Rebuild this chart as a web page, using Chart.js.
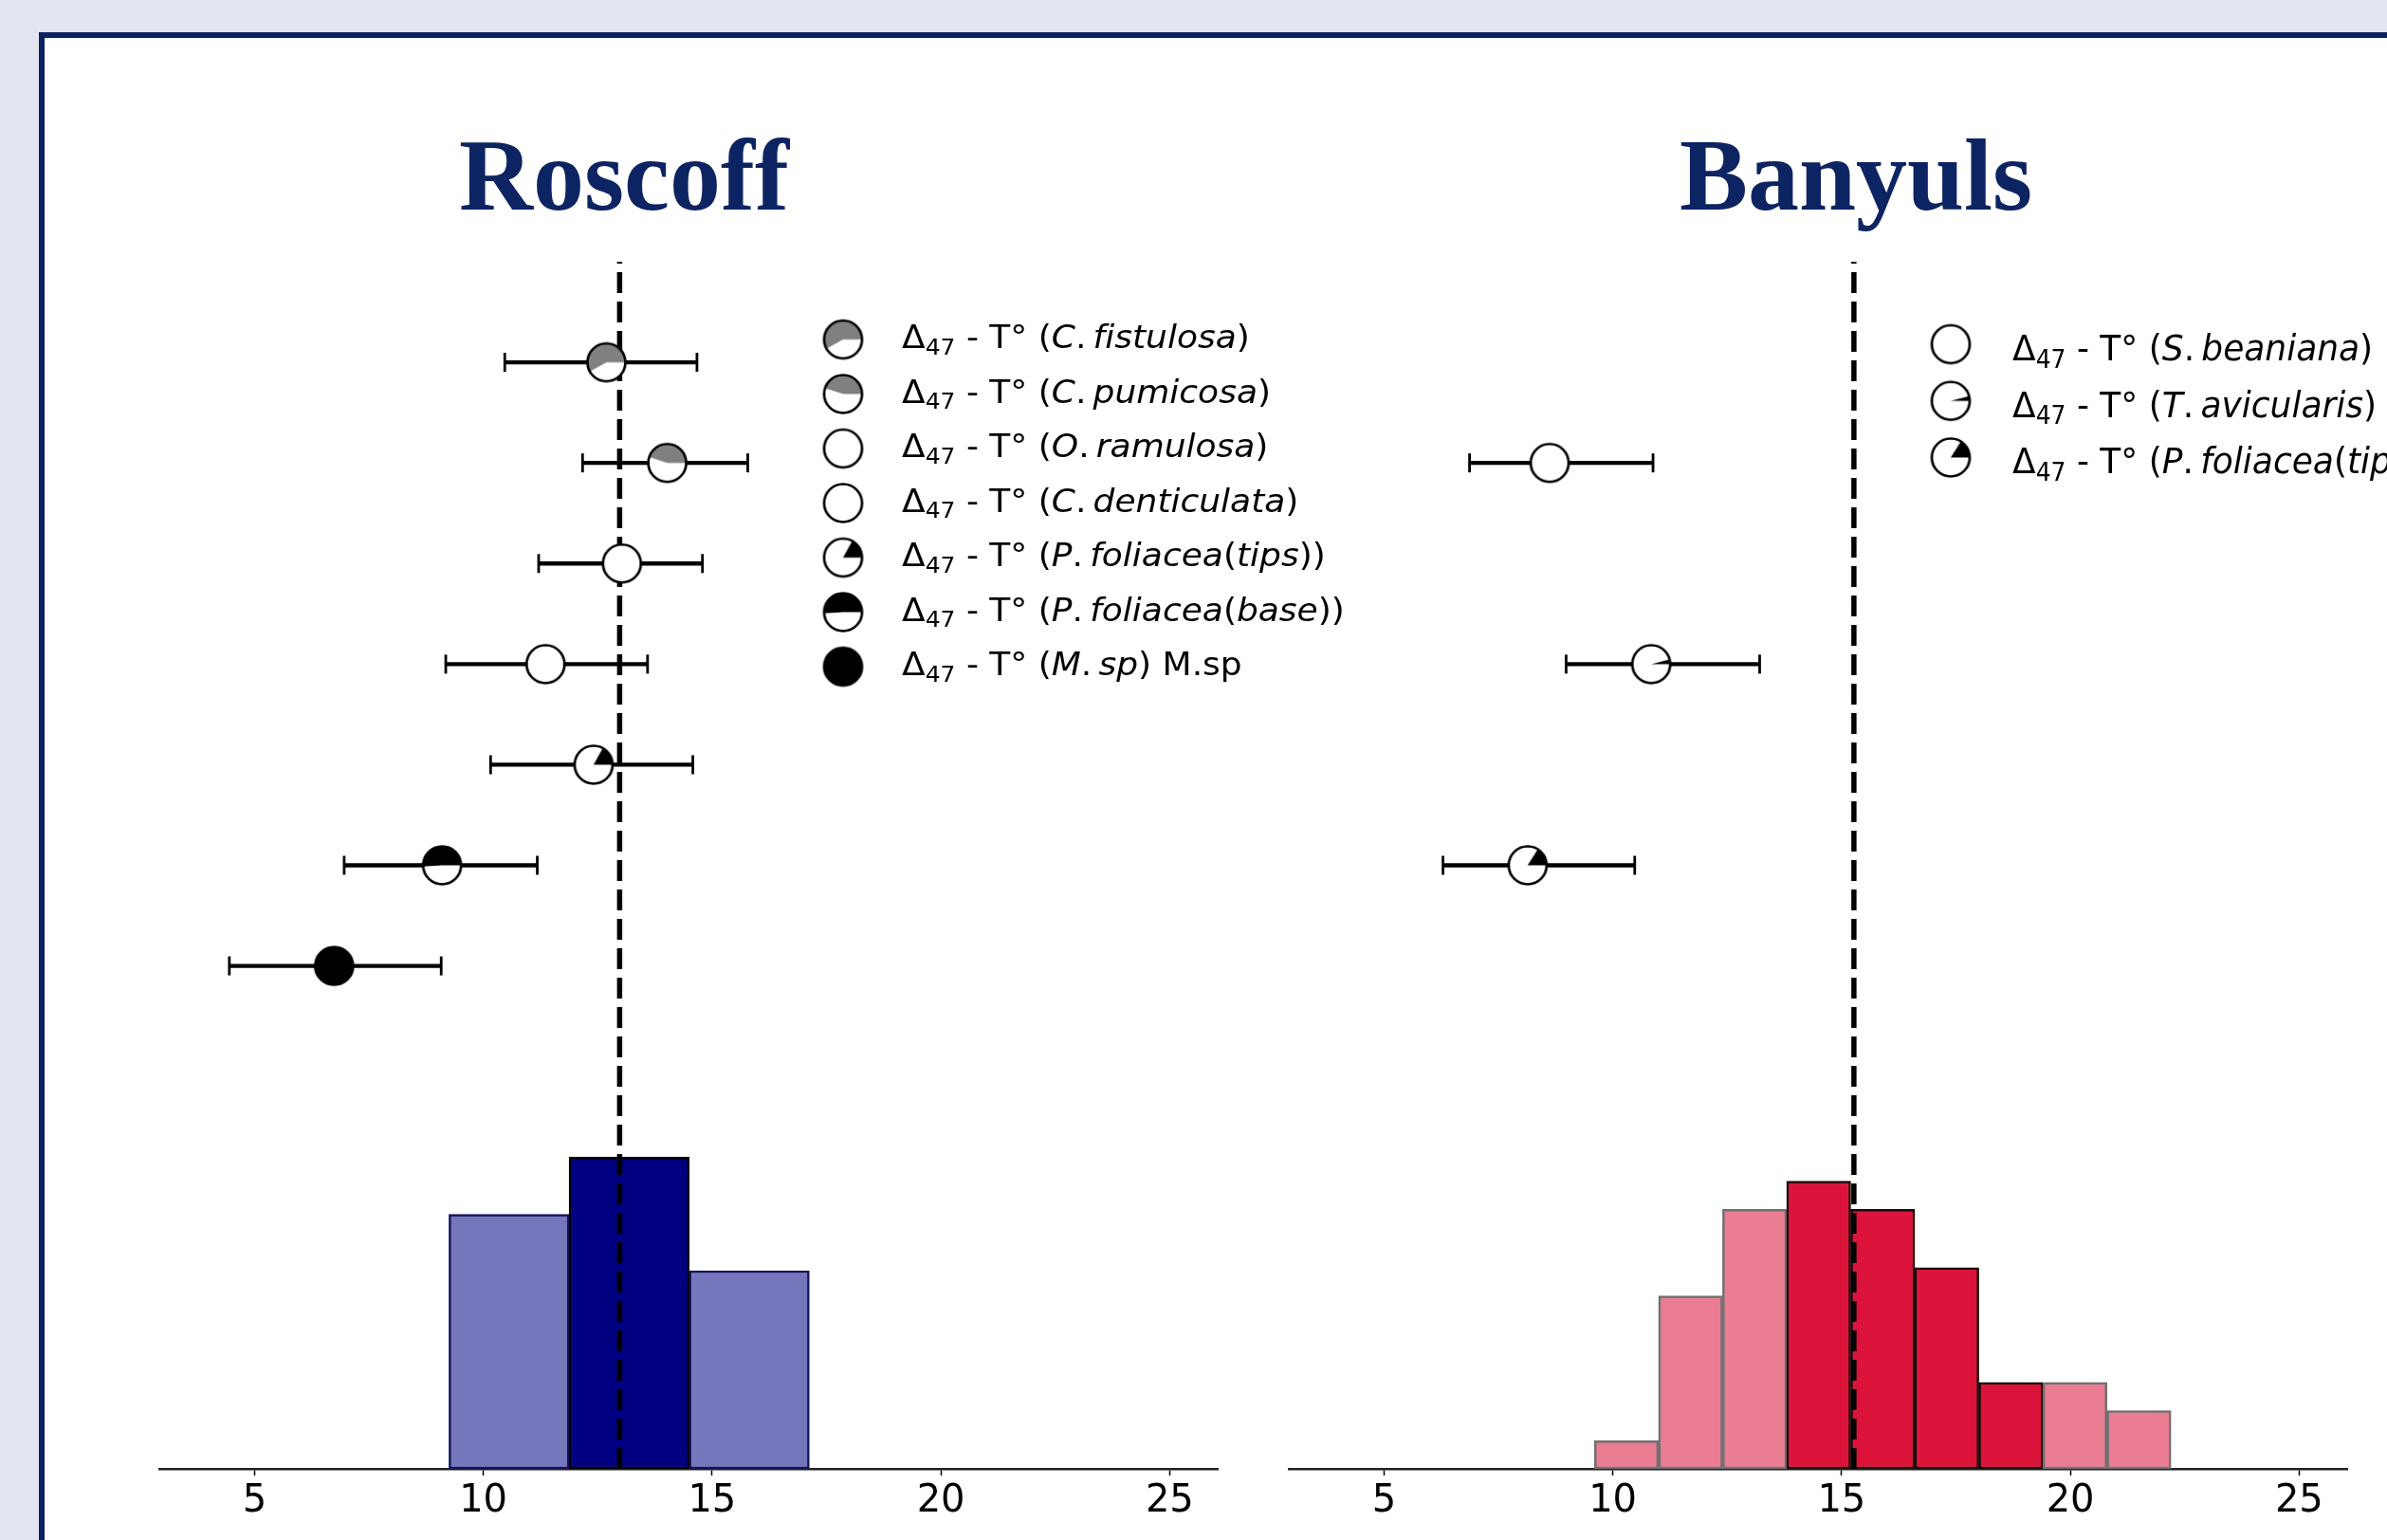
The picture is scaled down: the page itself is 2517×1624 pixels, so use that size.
<!DOCTYPE html>
<html>
<head>
<meta charset="utf-8">
<script src="https://cdn.jsdelivr.net/npm/chart.js@4.4.1/dist/chart.umd.min.js"></script>
<style>
  body { margin: 0; width: 2517px; height: 1624px; background: #e3e6f0; overflow: hidden; position: relative; }
  #frame { position: absolute; left: 41px; top: 34px; width: 2600px; height: 1700px; background: #fff;
           border-left: 6px solid #0b2262; border-top: 6px solid #0b2262; }
  .title { position: absolute; top: 131px; transform: translateX(-50%); white-space: nowrap;
           font-family: "Liberation Serif", serif; font-weight: bold; font-size: 108px; line-height: 108px; color: #0d2462; }
  .panel { position: absolute; top: 200px; height: 1450px; }
</style>
</head>
<body>
<div id="frame"></div>
<div class="title" style="left:658px">Roscoff</div>
<div class="title" style="left:1957px">Banyuls</div>
<div class="panel" style="left:120px; width:1320px"><canvas id="roscoffChart"></canvas></div>
<div class="panel" style="left:1300px; width:1217px"><canvas id="banyulsChart"></canvas></div>

<script>
// shared x ticks (temperature, °C)
const xTicks = [5, 10, 15, 20, 25];

// Roscoff : histogram (density) + Δ47 temperatures
const roscoffBinCenters = [10.5625, 13.1875, 15.8125];
const roscoffDensity = [0.1265, 0.155, 0.0985];
const roscoffCoreBins = [false, true, false];
const roscoffMean = 12.98;
const roscoffSpecies = ['C. fistulosa', 'C. pumicosa', 'O. ramulosa', 'C. denticulata', 'P. foliacea(tips)', 'P. foliacea(base)', 'M. sp'];
const roscoffSuffix = ['', '', '', '', '', '', ' M.sp'];
const roscoffTemp = [12.69, 14.02, 13.03, 11.36, 12.41, 9.10, 6.74];
const roscoffLow = [10.47, 12.17, 11.21, 9.18, 10.16, 6.96, 4.45];
const roscoffHigh = [14.67, 15.78, 14.79, 13.59, 14.58, 11.18, 9.08];
const roscoffRow = [7, 6, 5, 4, 3, 2, 1];
// marker pie fill (fraction of the disc, colour)
const roscoffPie = [0.58, 0.45, 0, 0, 0.17, 0.51, 1];
const roscoffPieColor = ['#808080', '#808080', '#000', '#000', '#000', '#000', '#000'];

// Banyuls
const banyulsBinCenters = [10.3, 11.7, 13.1, 14.5, 15.9, 17.3, 18.7, 20.1, 21.5];
const banyulsDensity = [0.014, 0.086, 0.129, 0.143, 0.129, 0.100, 0.043, 0.043, 0.029];
const banyulsCoreBins = [false, false, false, true, true, true, true, false, false];
const banyulsMean = 15.27;
const banyulsSpecies = ['S. beaniana', 'T. avicularis', 'P. foliacea(tips)'];
const banyulsSuffix = ['', '', ''];
const banyulsTemp = [8.62, 10.84, 8.14];
const banyulsLow = [6.87, 8.98, 6.29];
const banyulsHigh = [10.88, 13.21, 10.48];
const banyulsRow = [6, 4, 2];
const banyulsPie = [0, 0.04, 0.16];
const banyulsPieColor = ['#000', '#000', '#000'];

Chart.defaults.font.family = '"DejaVu Sans"';

// pie-like circular marker drawn on a small canvas
function makeMarker(frac, color) {
    const r = 20, lw = 2.7;
    const c = document.createElement('canvas');
    const s = Math.ceil(2 * r + lw + 4);
    c.width = c.height = s;
    const g = c.getContext('2d');
    const m = s / 2;
    g.fillStyle = '#fff';
    g.beginPath(); g.arc(m, m, r, 0, 2 * Math.PI); g.fill();
    if (frac > 0) {
        g.fillStyle = color;
        g.beginPath();
        g.moveTo(m, m);
        g.arc(m, m, r, 0, -2 * Math.PI * frac, true);
        g.closePath();
        g.fill();
    }
    g.lineWidth = lw;
    g.strokeStyle = '#000';
    g.beginPath(); g.arc(m, m, r, 0, 2 * Math.PI); g.stroke();
    return c;
}

// legend text: Δ47 - T° (species) with italic letters like mathtext
function drawLabel(ctx, x, y, species, suffix, size, sy) {
    ctx.save();
    ctx.translate(x, y);
    ctx.scale(1, sy);
    ctx.fillStyle = '#000';
    ctx.textBaseline = 'alphabetic';
    let cx = 0;
    const up = `${size}px "DejaVu Sans"`;
    const it = `oblique ${size}px "DejaVu Sans"`;
    const put = (txt, font, dy = 0) => {
        ctx.font = font;
        ctx.fillText(txt, cx, dy);
        cx += ctx.measureText(txt).width;
    };
    put('Δ', up);
    put('47', `${Math.round(size * 0.7)}px "DejaVu Sans"`, size * 0.2);
    put(' - T° (', up);
    for (const ch of species) {
        if (ch === ' ') { cx += size * 0.2; continue; }
        put(ch, /[A-Za-z]/.test(ch) ? it : up);
    }
    put(')' + suffix, up);
    ctx.restore();
}

const speciesLegend = {
    id: 'speciesLegend',
    afterDraw(chart, args, o) {
        const ctx = chart.ctx;
        o.species.forEach((sp, i) => {
            const y = o.firstY + i * o.stepY;
            const mk = o.markers[i];
            ctx.drawImage(mk, o.markerX - mk.width / 2, y - mk.height / 2);
            drawLabel(ctx, o.textX, y + o.baseline, sp, o.suffix[i], o.size, o.sy);
        });
    }
};

function createPanel(canvasId, d, legend, pad) {
    const markers = d.pie.map((f, i) => makeMarker(f, d.pieColor[i]));
    const datasets = [];

    // histogram
    datasets.push({
        type: 'bar',
        data: d.binCenters.map((c, i) => ({ x: c, y: d.density[i] })),
        backgroundColor: d.core.map(k => k ? d.dark : d.light),
        borderColor: d.core.map(k => k ? d.darkEdge : d.lightEdge),
        borderWidth: 2.5,
        borderSkipped: false,
        barPercentage: 1,
        categoryPercentage: 1,
        yAxisID: 'y',
        order: 4
    });

    // mean line
    datasets.push({
        type: 'line',
        data: [{ x: d.mean, y: 0 }, { x: d.mean, y: 0.6 }],
        borderColor: '#000',
        borderWidth: 5.5,
        borderDash: [22, 9],
        pointRadius: 0,
        yAxisID: 'y',
        order: 3
    });

    // error bars
    d.temp.forEach((t, i) => {
        datasets.push({
            type: 'line',
            data: [{ x: d.low[i], y: d.row[i] }, { x: d.high[i], y: d.row[i] }],
            borderColor: '#000',
            borderWidth: 4.3,
            pointStyle: 'line',
            pointRotation: 90,
            pointRadius: 10,
            pointBorderWidth: 2.8,
            pointBorderColor: '#000',
            yAxisID: 'y2',
            order: 2
        });
    });

    // markers
    datasets.push({
        type: 'scatter',
        data: d.temp.map((t, i) => ({ x: t, y: d.row[i] })),
        pointStyle: markers,
        yAxisID: 'y2',
        order: 1
    });

    return new Chart(document.getElementById(canvasId), {
        type: 'bar',
        data: { datasets },
        options: {
            responsive: true,
            maintainAspectRatio: false,
            devicePixelRatio: 1,
            animation: false,
            layout: { padding: pad },
            plugins: {
                legend: { display: false },
                tooltip: { enabled: false },
                speciesLegend: Object.assign({ species: d.species, suffix: d.suffix, markers }, legend)
            },
            scales: {
                x: {
                    type: 'linear',
                    min: 2.92,
                    max: 26.05,
                    offset: false,
                    afterBuildTicks: s => { s.ticks = xTicks.map(v => ({ value: v })); },
                    afterFit: s => { s.height = 60; },
                    grid: { display: true, offset: false, drawOnChartArea: false, drawTicks: true, tickLength: 7, tickWidth: 1.5, tickColor: '#000' },
                    border: { display: true, color: '#222', width: 2.5 },
                    ticks: { color: '#000', font: { size: 40 }, padding: 4, maxRotation: 0 }
                },
                y: { display: false, min: 0, max: 0.6 },
                y2: { display: false, min: -4, max: 8 }
            }
        },
        plugins: [speciesLegend]
    });
}

createPanel('roscoffChart', {
    binCenters: roscoffBinCenters, density: roscoffDensity, core: roscoffCoreBins, mean: roscoffMean,
    species: roscoffSpecies, suffix: roscoffSuffix, temp: roscoffTemp, low: roscoffLow, high: roscoffHigh,
    row: roscoffRow, pie: roscoffPie, pieColor: roscoffPieColor,
    dark: '#000080', light: '#7676bc', darkEdge: '#000', lightEdge: '#12125a'
}, { markerX: 769, firstY: 158, stepY: 57.5, textX: 831, baseline: 9, size: 36, sy: 0.95 },
   { left: 48, right: 156, top: 76, bottom: 41 });

createPanel('banyulsChart', {
    binCenters: banyulsBinCenters, density: banyulsDensity, core: banyulsCoreBins, mean: banyulsMean,
    species: banyulsSpecies, suffix: banyulsSuffix, temp: banyulsTemp, low: banyulsLow, high: banyulsHigh,
    row: banyulsRow, pie: banyulsPie, pieColor: banyulsPieColor,
    dark: '#dc143c', light: '#ea7d93', darkEdge: '#1a0a0a', lightEdge: '#707070'
}, { markerX: 757, firstY: 163, stepY: 59.7, textX: 822, baseline: 17, size: 36, sy: 1.05 },
   { left: 59, right: 42, top: 76, bottom: 41 });
</script>
</body>
</html>
